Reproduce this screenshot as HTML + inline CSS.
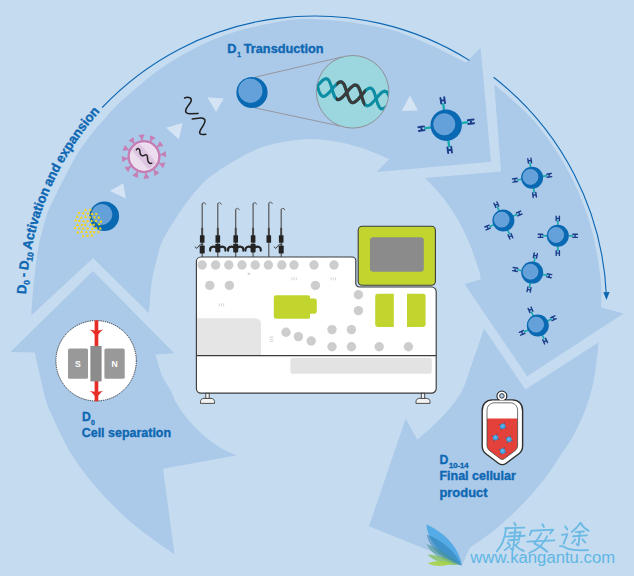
<!DOCTYPE html>
<html><head><meta charset="utf-8"><title>CAR-T workflow</title>
<style>
html,body{margin:0;padding:0;background:#c5dbf0;}
body{width:634px;height:576px;overflow:hidden;font-family:"Liberation Sans",sans-serif;}
svg{display:block;}
</style></head><body>
<svg width="634" height="576" viewBox="0 0 634 576">
<rect width="634" height="576" fill="#c5dbf0"/>
<g fill="#abc9e8">
<path d="M494.2 84.3 L501 171.5 L425 178 C427.8 181 436.4 189.4 441.7 196.1 C447 202.8 452.4 210.4 457 218.3 C461.6 226.2 465.7 234.5 469.4 243.3 C473.1 252.1 477.3 265.1 479.2 271.1 C481.1 277.1 480.4 278 480.6 279.4 L464.5 284 L527.2 376.3 L623.6 313.6 L601.2 307.6 C601 302.2 602.2 289.5 600.2 275 C598.2 260.5 594.7 238.4 589 220.5 C583.3 202.6 575.5 184.3 566.2 167.6 C556.9 150.9 545.3 134.2 533.3 120.3 C521.3 106.4 500.7 90.3 494.2 84.3 Z"/>
<path d="M598.4 342.6 L525.4 389.6 L484 328.4 C482.5 332.9 478.1 346.1 474.8 355.6 C471.5 365.1 467.4 378.3 464.4 385.5 C461.4 392.7 460.1 394.2 457 398.8 C453.9 403.4 449.9 408.3 445.7 413 C441.4 417.7 436.2 422.8 431.5 427.2 C426.8 431.6 419.7 437.6 417.3 439.7 L405.7 418.4 L369 526.3 L462.5 564 L469.6 548 C473.7 545.1 487.1 536 494 530.6 C500.9 525.2 505.6 520.4 511 515.4 C516.4 510.3 521.5 505.4 526.3 500.3 C531 495.2 535.4 490.1 539.5 485 C543.6 479.9 547.6 474.8 551 470 C554.4 465.2 556.5 461.3 560 456 C563.5 450.7 567.9 445.5 572 438 C576.1 430.5 581.3 420.2 584.8 411.1 C588.3 402 591.1 392.6 593.2 383.3 C595.3 374.1 596.4 362.4 597.3 355.6 C598.2 348.8 598.2 344.8 598.4 342.6 Z"/>
<path d="M93 271 L174.2 353.3 L155.4 354.4 C156.5 357.9 160 370.5 162 375.6 C164 380.7 165.8 382.2 167.4 385 C169 387.8 170.3 389.3 171.7 392.2 C173.1 395.1 173.2 397.8 176 402.4 C178.8 407 183.3 413.9 188.2 419.7 C193.1 425.5 199.8 432.2 205.6 437.1 C211.4 442 217.7 446.2 222.9 449.2 C228.1 452.2 234.5 454.3 236.8 455.3 L163 468.8 L174.5 554.5 C167.3 549.1 144.1 533.4 131.2 522.4 C118.3 511.3 107 499.6 97 488.2 C87 476.8 78.8 466.1 71.3 454 C63.8 441.9 56.2 424.5 52 415.5 C47.8 406.5 47.9 406.9 45.8 400 C43.7 393.1 41.1 380.4 39.6 374 C38.1 367.6 37.6 365.3 36.8 361.7 C36 358.1 35.1 354.1 34.7 352.6 L10.4 352 Z"/>
<path d="M31.2 315.5 L93 258 L149 313.3 C149.4 308.1 150.3 291.4 151.7 282 C153.1 272.6 155.6 264 157.4 257 C159.2 250 159.9 246.2 162.8 240 C165.7 233.8 169.8 227.3 174.7 219.9 C179.6 212.5 186.2 202.7 192 195.6 C197.8 188.5 202.2 183.2 209.4 177.3 C216.6 171.4 226.5 165.3 235 160.4 C243.5 155.5 251.8 151 260.2 147.8 C268.6 144.7 277.1 143 285.5 141.5 C293.9 140 302.3 138.9 310.7 138.9 C319.1 138.9 327.6 140 336 141.5 C344.4 143 352.8 145.1 361.2 147.8 C369.6 150.5 381.8 156 386.4 157.9 C391 159.8 388.6 159 389 159.2 L376.6 172 L491 161.8 L480.6 47.8 L465.7 62.7 C460.9 60.2 446.1 52.3 437 48 C427.9 43.7 418.8 39.8 411 36.7 C403.2 33.6 398.3 31.5 390 29.4 C381.7 27.3 369.8 25.3 361 23.9 C352.2 22.5 345.2 21.6 337.3 20.8 C329.4 20 321.6 19.3 313.7 19.2 C305.8 19.1 300.1 18.7 290 20 C279.9 21.3 264.5 24.4 253.1 27.1 C241.7 29.9 232 32.6 221.5 36.5 C211 40.4 200.3 45.2 190 50.7 C179.7 56.2 169.4 62.4 159.4 69.5 C149.4 76.6 137.4 87.2 130 93.5 C122.5 99.8 119.4 102.6 114.7 107.4 C110 112.2 105.2 118.1 101.7 122.1 C98.2 126.1 97.3 126.5 93.5 131.5 C89.7 136.5 83.1 145 78.6 152 C74.1 159 70.3 166.5 66.5 173.7 C62.7 180.9 58.8 188.8 55.8 195 C52.8 201.2 50.6 204.7 48.3 210.8 C46 216.9 43.8 225.2 42.1 231.7 C40.4 238.2 39.3 241.1 37.9 250 C36.5 258.9 34.7 274.1 33.6 285 C32.5 295.9 31.6 310.4 31.2 315.5 Z"/>
</g>
<path d="M102.2 107.5 A292.1 292.1 0 0 1 469.4 60.4" fill="none" stroke="#0d67b3" stroke-width="1.1"/>
<path d="M493.6 77.3 A292.1 292.1 0 0 1 606.4 296" fill="none" stroke="#0d67b3" stroke-width="1.1"/>
<path d="M603.3 292.3 L606.5 300 L609.6 292 Z" fill="#0d67b3"/>
<path id="tp" d="M26 294.2 A292.7 292.7 0 0 1 100.1 111.4" fill="none"/>
<text word-spacing="-1" font-family="Liberation Sans, sans-serif" font-weight="bold" font-size="13.3" fill="#0d67b3" stroke="#0d67b3" stroke-width="0.35"><textPath href="#tp" textLength="201.1" lengthAdjust="spacingAndGlyphs">D<tspan font-size="8.4" dy="3.1">0</tspan><tspan dy="-3.1"> - D</tspan><tspan font-size="8.4" dy="3.1">10</tspan><tspan dy="-3.1"> Activation and expansion</tspan></textPath></text>
<circle cx="104.3" cy="216.3" r="14.8" fill="#0a69b3"/><circle cx="101.9" cy="214.4" r="10" fill="#64a0d9" stroke="#78aede" stroke-width="0.7"/>
<g fill="#fdd60f"><path transform="translate(85.5 209.9) rotate(0)" d="M0 -1.65 L1.6 1.1 L-1.6 1.1Z"/><path transform="translate(90.5 209.9) rotate(90)" d="M0 -1.65 L1.6 1.1 L-1.6 1.1Z"/><path transform="translate(78.9 213) rotate(180)" d="M0 -1.65 L1.6 1.1 L-1.6 1.1Z"/><path transform="translate(83.4 213.3) rotate(30)" d="M0 -1.65 L1.6 1.1 L-1.6 1.1Z"/><path transform="translate(87.9 213.9) rotate(180)" d="M0 -1.65 L1.6 1.1 L-1.6 1.1Z"/><path transform="translate(92 214) rotate(0)" d="M0 -1.65 L1.6 1.1 L-1.6 1.1Z"/><path transform="translate(96.5 214) rotate(90)" d="M0 -1.65 L1.6 1.1 L-1.6 1.1Z"/><path transform="translate(77.2 216.7) rotate(0)" d="M0 -1.65 L1.6 1.1 L-1.6 1.1Z"/><path transform="translate(81.2 217.7) rotate(0)" d="M0 -1.65 L1.6 1.1 L-1.6 1.1Z"/><path transform="translate(85.6 216.7) rotate(0)" d="M0 -1.65 L1.6 1.1 L-1.6 1.1Z"/><path transform="translate(90 217.5) rotate(180)" d="M0 -1.65 L1.6 1.1 L-1.6 1.1Z"/><path transform="translate(94.5 217.7) rotate(180)" d="M0 -1.65 L1.6 1.1 L-1.6 1.1Z"/><path transform="translate(98.8 217.3) rotate(0)" d="M0 -1.65 L1.6 1.1 L-1.6 1.1Z"/><path transform="translate(75.6 220.5) rotate(0)" d="M0 -1.65 L1.6 1.1 L-1.6 1.1Z"/><path transform="translate(79.4 220.7) rotate(30)" d="M0 -1.65 L1.6 1.1 L-1.6 1.1Z"/><path transform="translate(83.6 221.1) rotate(0)" d="M0 -1.65 L1.6 1.1 L-1.6 1.1Z"/><path transform="translate(87.8 221.3) rotate(90)" d="M0 -1.65 L1.6 1.1 L-1.6 1.1Z"/><path transform="translate(92 221) rotate(90)" d="M0 -1.65 L1.6 1.1 L-1.6 1.1Z"/><path transform="translate(96.1 220.7) rotate(0)" d="M0 -1.65 L1.6 1.1 L-1.6 1.1Z"/><path transform="translate(101 221.5) rotate(30)" d="M0 -1.65 L1.6 1.1 L-1.6 1.1Z"/><path transform="translate(77.5 224.8) rotate(0)" d="M0 -1.65 L1.6 1.1 L-1.6 1.1Z"/><path transform="translate(82 225) rotate(90)" d="M0 -1.65 L1.6 1.1 L-1.6 1.1Z"/><path transform="translate(85.3 224.8) rotate(30)" d="M0 -1.65 L1.6 1.1 L-1.6 1.1Z"/><path transform="translate(90.4 224.7) rotate(0)" d="M0 -1.65 L1.6 1.1 L-1.6 1.1Z"/><path transform="translate(93.9 224.6) rotate(30)" d="M0 -1.65 L1.6 1.1 L-1.6 1.1Z"/><path transform="translate(99.1 224.1) rotate(0)" d="M0 -1.65 L1.6 1.1 L-1.6 1.1Z"/><path transform="translate(75.1 227.9) rotate(0)" d="M0 -1.65 L1.6 1.1 L-1.6 1.1Z"/><path transform="translate(79.3 228.2) rotate(0)" d="M0 -1.65 L1.6 1.1 L-1.6 1.1Z"/><path transform="translate(83.1 228.4) rotate(0)" d="M0 -1.65 L1.6 1.1 L-1.6 1.1Z"/><path transform="translate(87.8 228.4) rotate(90)" d="M0 -1.65 L1.6 1.1 L-1.6 1.1Z"/><path transform="translate(92.6 228.8) rotate(90)" d="M0 -1.65 L1.6 1.1 L-1.6 1.1Z"/><path transform="translate(96.1 227.8) rotate(0)" d="M0 -1.65 L1.6 1.1 L-1.6 1.1Z"/><path transform="translate(100.2 228.4) rotate(0)" d="M0 -1.65 L1.6 1.1 L-1.6 1.1Z"/><path transform="translate(77.8 232.5) rotate(0)" d="M0 -1.65 L1.6 1.1 L-1.6 1.1Z"/><path transform="translate(81.6 231.6) rotate(0)" d="M0 -1.65 L1.6 1.1 L-1.6 1.1Z"/><path transform="translate(86.3 231.8) rotate(0)" d="M0 -1.65 L1.6 1.1 L-1.6 1.1Z"/><path transform="translate(90.5 232.4) rotate(180)" d="M0 -1.65 L1.6 1.1 L-1.6 1.1Z"/><path transform="translate(94.1 232.4) rotate(180)" d="M0 -1.65 L1.6 1.1 L-1.6 1.1Z"/><path transform="translate(98.7 232.1) rotate(90)" d="M0 -1.65 L1.6 1.1 L-1.6 1.1Z"/><path transform="translate(83.2 236.2) rotate(90)" d="M0 -1.65 L1.6 1.1 L-1.6 1.1Z"/><path transform="translate(87.6 235.8) rotate(30)" d="M0 -1.65 L1.6 1.1 L-1.6 1.1Z"/><path transform="translate(91.9 235.4) rotate(0)" d="M0 -1.65 L1.6 1.1 L-1.6 1.1Z"/></g>
<path d="M255 77.2 L342 57 M254.5 107.8 L340 126" stroke="#8a8284" stroke-width="0.7" fill="none"/>
<circle cx="252" cy="92.5" r="15.6" fill="#0a69b3"/><circle cx="250.4" cy="90.7" r="11.7" fill="#64a0d9" stroke="#78aede" stroke-width="0.7"/>
<circle cx="352.6" cy="91.8" r="36.3" fill="#9cd6de" stroke="#8a8284" stroke-width="0.8"/>
<clipPath id="dc"><circle cx="352.6" cy="91.8" r="35.8"/></clipPath><clipPath id="dm"><path d="M337.5 60 L367 60 L364 130 L334.5 130Z"/></clipPath><g clip-path="url(#dc)" fill="none" stroke-width="3.1" stroke-linecap="round"><path d="M309.2 76.3 L310.4 75.8 L311.4 75.6 L312.4 75.8 L313.3 76.4 L314.1 77.3 L314.9 78.6 L315.6 80.2 L316.2 82 L316.8 83.9 L317.4 86 L318 88 L318.6 90 L319.2 91.8 L319.9 93.3 L320.7 94.6 L321.5 95.6 L322.4 96.2 L323.3 96.4 L324.4 96.3 L325.5 95.7 L326.7 94.9 L328 93.7 L329.3 92.4 L330.7 90.8 L332 89.2 L333.4 87.6 L334.8 86 L336.1 84.6 L337.4 83.5 L338.6 82.6 L339.7 82 L340.8 81.8 L341.7 82 L342.6 82.6 L343.5 83.6 L344.2 84.8 L344.9 86.4 L345.5 88.2 L346.2 90.2 L346.7 92.2 L347.3 94.2 L347.9 96.2 L348.6 98 L349.3 99.6 L350 100.9 L350.8 101.9 L351.7 102.5 L352.7 102.7 L353.8 102.5 L354.9 102 L356.1 101.1 L357.4 100 L358.7 98.6 L360 97.1 L361.4 95.4 L362.8 93.8 L364.1 92.3 L365.4 90.9 L366.7 89.7 L367.9 88.8 L369 88.3 L370.1 88.1 L371.1 88.3 L372 88.9 L372.8 89.8 L373.6 91.1 L374.3 92.6 L374.9 94.4 L375.5 96.4 L376.1 98.4 L376.7 100.5 L377.3 102.4 L377.9 104.2 L378.6 105.8 L379.4 107.1 L380.2 108.1 L381.1 108.7 L382 108.9 L383.1 108.8 L384.2 108.2 L385.4 107.4 L386.7 106.2 L388 104.8 L389.4 103.3 L390.7 101.7 L392.1 100 L393.5 98.5 L394.8 97.1 L396 95.9 L397.3 95.1 L398.4 94.5 L399.5 94.3" stroke="#0d8da4"/><path d="M306 91.5 L306.8 92.5 L307.7 93.1 L308.7 93.3 L309.7 93.2 L310.9 92.6 L312.1 91.8 L313.3 90.6 L314.7 89.2 L316 87.7 L317.4 86.1 L318.7 84.4 L320.1 82.9 L321.4 81.5 L322.7 80.3 L323.9 79.5 L325 78.9 L326.1 78.7 L327.1 78.9 L328 79.5 L328.8 80.4 L329.5 81.7 L330.2 83.3 L330.9 85.1 L331.5 87 L332.1 89.1 L332.7 91.1 L333.3 93.1 L333.9 94.9 L334.6 96.5 L335.3 97.8 L336.2 98.7 L337 99.3 L338 99.6 L339.1 99.4 L340.2 98.9 L341.4 98 L342.7 96.9 L344 95.5 L345.4 93.9 L346.7 92.3 L348.1 90.7 L349.4 89.1 L350.8 87.7 L352 86.6 L353.2 85.7 L354.4 85.1 L355.4 85 L356.4 85.2 L357.3 85.7 L358.1 86.7 L358.9 88 L359.6 89.5 L360.2 91.3 L360.8 93.3 L361.4 95.3 L362 97.4 L362.6 99.3 L363.2 101.1 L363.9 102.7 L364.7 104 L365.5 105 L366.4 105.6 L367.4 105.8 L368.4 105.6 L369.6 105.1 L370.8 104.2 L372 103.1 L373.3 101.7 L374.7 100.2 L376.1 98.5 L377.4 96.9 L378.8 95.4 L380.1 94 L381.4 92.8 L382.6 91.9 L383.7 91.4 L384.8 91.2 L385.8 91.4 L386.7 92 L387.5 92.9 L388.2 94.2 L388.9 95.8 L389.6 97.6 L390.2 99.5 L390.8 101.6 L391.3 103.6 L392 105.6 L392.6 107.4 L393.3 108.9 L394 110.2 L394.8 111.2 L395.7 111.8" stroke="#0d8da4"/><g clip-path="url(#dm)"><path d="M309.2 76.3 L310.4 75.8 L311.4 75.6 L312.4 75.8 L313.3 76.4 L314.1 77.3 L314.9 78.6 L315.6 80.2 L316.2 82 L316.8 83.9 L317.4 86 L318 88 L318.6 90 L319.2 91.8 L319.9 93.3 L320.7 94.6 L321.5 95.6 L322.4 96.2 L323.3 96.4 L324.4 96.3 L325.5 95.7 L326.7 94.9 L328 93.7 L329.3 92.4 L330.7 90.8 L332 89.2 L333.4 87.6 L334.8 86 L336.1 84.6 L337.4 83.5 L338.6 82.6 L339.7 82 L340.8 81.8 L341.7 82 L342.6 82.6 L343.5 83.6 L344.2 84.8 L344.9 86.4 L345.5 88.2 L346.2 90.2 L346.7 92.2 L347.3 94.2 L347.9 96.2 L348.6 98 L349.3 99.6 L350 100.9 L350.8 101.9 L351.7 102.5 L352.7 102.7 L353.8 102.5 L354.9 102 L356.1 101.1 L357.4 100 L358.7 98.6 L360 97.1 L361.4 95.4 L362.8 93.8 L364.1 92.3 L365.4 90.9 L366.7 89.7 L367.9 88.8 L369 88.3 L370.1 88.1 L371.1 88.3 L372 88.9 L372.8 89.8 L373.6 91.1 L374.3 92.6 L374.9 94.4 L375.5 96.4 L376.1 98.4 L376.7 100.5 L377.3 102.4 L377.9 104.2 L378.6 105.8 L379.4 107.1 L380.2 108.1 L381.1 108.7 L382 108.9 L383.1 108.8 L384.2 108.2 L385.4 107.4 L386.7 106.2 L388 104.8 L389.4 103.3 L390.7 101.7 L392.1 100 L393.5 98.5 L394.8 97.1 L396 95.9 L397.3 95.1 L398.4 94.5 L399.5 94.3" stroke="#3b3b3b"/><path d="M306 91.5 L306.8 92.5 L307.7 93.1 L308.7 93.3 L309.7 93.2 L310.9 92.6 L312.1 91.8 L313.3 90.6 L314.7 89.2 L316 87.7 L317.4 86.1 L318.7 84.4 L320.1 82.9 L321.4 81.5 L322.7 80.3 L323.9 79.5 L325 78.9 L326.1 78.7 L327.1 78.9 L328 79.5 L328.8 80.4 L329.5 81.7 L330.2 83.3 L330.9 85.1 L331.5 87 L332.1 89.1 L332.7 91.1 L333.3 93.1 L333.9 94.9 L334.6 96.5 L335.3 97.8 L336.2 98.7 L337 99.3 L338 99.6 L339.1 99.4 L340.2 98.9 L341.4 98 L342.7 96.9 L344 95.5 L345.4 93.9 L346.7 92.3 L348.1 90.7 L349.4 89.1 L350.8 87.7 L352 86.6 L353.2 85.7 L354.4 85.1 L355.4 85 L356.4 85.2 L357.3 85.7 L358.1 86.7 L358.9 88 L359.6 89.5 L360.2 91.3 L360.8 93.3 L361.4 95.3 L362 97.4 L362.6 99.3 L363.2 101.1 L363.9 102.7 L364.7 104 L365.5 105 L366.4 105.6 L367.4 105.8 L368.4 105.6 L369.6 105.1 L370.8 104.2 L372 103.1 L373.3 101.7 L374.7 100.2 L376.1 98.5 L377.4 96.9 L378.8 95.4 L380.1 94 L381.4 92.8 L382.6 91.9 L383.7 91.4 L384.8 91.2 L385.8 91.4 L386.7 92 L387.5 92.9 L388.2 94.2 L388.9 95.8 L389.6 97.6 L390.2 99.5 L390.8 101.6 L391.3 103.6 L392 105.6 L392.6 107.4 L393.3 108.9 L394 110.2 L394.8 111.2 L395.7 111.8" stroke="#3b3b3b"/></g></g>
<g transform="translate(446.2 125.2) rotate(-8)"><g transform="rotate(0)"><path d="M0 -15.2 V-22.3" stroke="#16a9ad" stroke-width="2.3" fill="none"/><path d="M-1.9 -22.1 V-27.9 M1.9 -22.1 V-27.9 M-1.9 -25 H1.9" stroke="#1a3d8c" stroke-width="1.9" fill="none" stroke-linecap="round"/></g><g transform="rotate(90)"><path d="M0 -15.2 V-22.3" stroke="#16a9ad" stroke-width="2.3" fill="none"/><path d="M-1.9 -22.1 V-27.9 M1.9 -22.1 V-27.9 M-1.9 -25 H1.9" stroke="#1a3d8c" stroke-width="1.9" fill="none" stroke-linecap="round"/></g><g transform="rotate(180)"><path d="M0 -15.2 V-22.3" stroke="#16a9ad" stroke-width="2.3" fill="none"/><path d="M-1.9 -22.1 V-27.9 M1.9 -22.1 V-27.9 M-1.9 -25 H1.9" stroke="#1a3d8c" stroke-width="1.9" fill="none" stroke-linecap="round"/></g><g transform="rotate(270)"><path d="M0 -15.2 V-22.3" stroke="#16a9ad" stroke-width="2.3" fill="none"/><path d="M-1.9 -22.1 V-27.9 M1.9 -22.1 V-27.9 M-1.9 -25 H1.9" stroke="#1a3d8c" stroke-width="1.9" fill="none" stroke-linecap="round"/></g></g><circle cx="446.2" cy="125.2" r="15.7" fill="#0a69b3"/><circle cx="444.3" cy="124.3" r="10.6" fill="#64a0d9" stroke="#78aede" stroke-width="0.7"/>
<g transform="translate(532.1 177.8) rotate(-8)"><g transform="rotate(0)"><path d="M0 -10.5 V-15.4" stroke="#16a9ad" stroke-width="1.6" fill="none"/><path d="M-1.6 -15 V-19.6 M1.6 -15 V-19.6 M-1.6 -17.3 H1.6" stroke="#1a3d8c" stroke-width="1.4" fill="none" stroke-linecap="round"/></g><g transform="rotate(90)"><path d="M0 -10.5 V-15.4" stroke="#16a9ad" stroke-width="1.6" fill="none"/><path d="M-1.6 -15 V-19.6 M1.6 -15 V-19.6 M-1.6 -17.3 H1.6" stroke="#1a3d8c" stroke-width="1.4" fill="none" stroke-linecap="round"/></g><g transform="rotate(180)"><path d="M0 -10.5 V-15.4" stroke="#16a9ad" stroke-width="1.6" fill="none"/><path d="M-1.6 -15 V-19.6 M1.6 -15 V-19.6 M-1.6 -17.3 H1.6" stroke="#1a3d8c" stroke-width="1.4" fill="none" stroke-linecap="round"/></g><g transform="rotate(270)"><path d="M0 -10.5 V-15.4" stroke="#16a9ad" stroke-width="1.6" fill="none"/><path d="M-1.6 -15 V-19.6 M1.6 -15 V-19.6 M-1.6 -17.3 H1.6" stroke="#1a3d8c" stroke-width="1.4" fill="none" stroke-linecap="round"/></g></g><circle cx="532.1" cy="177.8" r="11" fill="#0a69b3"/><circle cx="530.4" cy="176.9" r="7.5" fill="#64a0d9" stroke="#78aede" stroke-width="0.7"/>
<g transform="translate(503.4 220.5) rotate(-24)"><g transform="rotate(0)"><path d="M0 -10.5 V-15.4" stroke="#16a9ad" stroke-width="1.6" fill="none"/><path d="M-1.6 -15 V-19.6 M1.6 -15 V-19.6 M-1.6 -17.3 H1.6" stroke="#1a3d8c" stroke-width="1.4" fill="none" stroke-linecap="round"/></g><g transform="rotate(90)"><path d="M0 -10.5 V-15.4" stroke="#16a9ad" stroke-width="1.6" fill="none"/><path d="M-1.6 -15 V-19.6 M1.6 -15 V-19.6 M-1.6 -17.3 H1.6" stroke="#1a3d8c" stroke-width="1.4" fill="none" stroke-linecap="round"/></g><g transform="rotate(180)"><path d="M0 -10.5 V-15.4" stroke="#16a9ad" stroke-width="1.6" fill="none"/><path d="M-1.6 -15 V-19.6 M1.6 -15 V-19.6 M-1.6 -17.3 H1.6" stroke="#1a3d8c" stroke-width="1.4" fill="none" stroke-linecap="round"/></g><g transform="rotate(270)"><path d="M0 -10.5 V-15.4" stroke="#16a9ad" stroke-width="1.6" fill="none"/><path d="M-1.6 -15 V-19.6 M1.6 -15 V-19.6 M-1.6 -17.3 H1.6" stroke="#1a3d8c" stroke-width="1.4" fill="none" stroke-linecap="round"/></g></g><circle cx="503.4" cy="220.5" r="11" fill="#0a69b3"/><circle cx="501.7" cy="219.6" r="7.5" fill="#64a0d9" stroke="#78aede" stroke-width="0.7"/>
<g transform="translate(557.8 235.8) rotate(0)"><g transform="rotate(0)"><path d="M0 -10.5 V-15.4" stroke="#16a9ad" stroke-width="1.6" fill="none"/><path d="M-1.6 -15 V-19.6 M1.6 -15 V-19.6 M-1.6 -17.3 H1.6" stroke="#1a3d8c" stroke-width="1.4" fill="none" stroke-linecap="round"/></g><g transform="rotate(90)"><path d="M0 -10.5 V-15.4" stroke="#16a9ad" stroke-width="1.6" fill="none"/><path d="M-1.6 -15 V-19.6 M1.6 -15 V-19.6 M-1.6 -17.3 H1.6" stroke="#1a3d8c" stroke-width="1.4" fill="none" stroke-linecap="round"/></g><g transform="rotate(180)"><path d="M0 -10.5 V-15.4" stroke="#16a9ad" stroke-width="1.6" fill="none"/><path d="M-1.6 -15 V-19.6 M1.6 -15 V-19.6 M-1.6 -17.3 H1.6" stroke="#1a3d8c" stroke-width="1.4" fill="none" stroke-linecap="round"/></g><g transform="rotate(270)"><path d="M0 -10.5 V-15.4" stroke="#16a9ad" stroke-width="1.6" fill="none"/><path d="M-1.6 -15 V-19.6 M1.6 -15 V-19.6 M-1.6 -17.3 H1.6" stroke="#1a3d8c" stroke-width="1.4" fill="none" stroke-linecap="round"/></g></g><circle cx="557.8" cy="235.8" r="11" fill="#0a69b3"/><circle cx="556.1" cy="234.9" r="7.5" fill="#64a0d9" stroke="#78aede" stroke-width="0.7"/>
<g transform="translate(532.2 272.6) rotate(10.5)"><g transform="rotate(0)"><path d="M0 -10.5 V-15.4" stroke="#16a9ad" stroke-width="1.6" fill="none"/><path d="M-1.6 -15 V-19.6 M1.6 -15 V-19.6 M-1.6 -17.3 H1.6" stroke="#1a3d8c" stroke-width="1.4" fill="none" stroke-linecap="round"/></g><g transform="rotate(90)"><path d="M0 -10.5 V-15.4" stroke="#16a9ad" stroke-width="1.6" fill="none"/><path d="M-1.6 -15 V-19.6 M1.6 -15 V-19.6 M-1.6 -17.3 H1.6" stroke="#1a3d8c" stroke-width="1.4" fill="none" stroke-linecap="round"/></g><g transform="rotate(180)"><path d="M0 -10.5 V-15.4" stroke="#16a9ad" stroke-width="1.6" fill="none"/><path d="M-1.6 -15 V-19.6 M1.6 -15 V-19.6 M-1.6 -17.3 H1.6" stroke="#1a3d8c" stroke-width="1.4" fill="none" stroke-linecap="round"/></g><g transform="rotate(270)"><path d="M0 -10.5 V-15.4" stroke="#16a9ad" stroke-width="1.6" fill="none"/><path d="M-1.6 -15 V-19.6 M1.6 -15 V-19.6 M-1.6 -17.3 H1.6" stroke="#1a3d8c" stroke-width="1.4" fill="none" stroke-linecap="round"/></g></g><circle cx="532.2" cy="272.6" r="11" fill="#0a69b3"/><circle cx="530.5" cy="271.7" r="7.5" fill="#64a0d9" stroke="#78aede" stroke-width="0.7"/>
<g transform="translate(537.8 325.5) rotate(-25)"><g transform="rotate(0)"><path d="M0 -10.5 V-15.4" stroke="#16a9ad" stroke-width="1.6" fill="none"/><path d="M-1.6 -15 V-19.6 M1.6 -15 V-19.6 M-1.6 -17.3 H1.6" stroke="#1a3d8c" stroke-width="1.4" fill="none" stroke-linecap="round"/></g><g transform="rotate(90)"><path d="M0 -10.5 V-15.4" stroke="#16a9ad" stroke-width="1.6" fill="none"/><path d="M-1.6 -15 V-19.6 M1.6 -15 V-19.6 M-1.6 -17.3 H1.6" stroke="#1a3d8c" stroke-width="1.4" fill="none" stroke-linecap="round"/></g><g transform="rotate(180)"><path d="M0 -10.5 V-15.4" stroke="#16a9ad" stroke-width="1.6" fill="none"/><path d="M-1.6 -15 V-19.6 M1.6 -15 V-19.6 M-1.6 -17.3 H1.6" stroke="#1a3d8c" stroke-width="1.4" fill="none" stroke-linecap="round"/></g><g transform="rotate(270)"><path d="M0 -10.5 V-15.4" stroke="#16a9ad" stroke-width="1.6" fill="none"/><path d="M-1.6 -15 V-19.6 M1.6 -15 V-19.6 M-1.6 -17.3 H1.6" stroke="#1a3d8c" stroke-width="1.4" fill="none" stroke-linecap="round"/></g></g><circle cx="537.8" cy="325.5" r="11" fill="#0a69b3"/><circle cx="536.1" cy="324.6" r="7.5" fill="#64a0d9" stroke="#78aede" stroke-width="0.7"/>
<g fill="#ffffff" fill-opacity="0.5"><path d="M110 191 L123.2 183.2 L125.9 198.5Z"/><path d="M166.2 127.8 L182.6 123.1 L178.9 139.5Z"/><path d="M207.3 97.2 L223.7 98.5 L216.1 112.1Z"/><path d="M410 95.6 L401.6 111 L418 110.5Z"/></g>
<path d="M184.6 98 C186.5 97.2 188.5 97.2 189.8 97.8 C191.6 98.8 191.6 100.6 190.6 102.2 L187 107.4 C185.6 109.6 185.2 111.4 186.2 112.6 C187 113.6 188.4 113.8 190 113.7 L198 113.4 M192.2 118.9 L200.4 118 C202.6 117.8 204.4 118.4 204.9 120 C205.4 121.6 204.6 123.2 203.6 124.8 L200.8 129.4 C199.6 131.4 199.2 132.8 200.2 133.8 C201.2 134.8 203.4 134.7 205.8 134.3" fill="none" stroke="#1f1f1f" stroke-width="1.55" stroke-linecap="round" stroke-linejoin="round"/>
<g transform="translate(144 156.6)"><g transform="rotate(-6.5)"><path d="M0 -16 V-19.6" stroke="#c67fb5" stroke-width="1.7" fill="none"/><path d="M-2.5 -21.6 H2.5 L0.6 -18.4 H-0.6 Z" fill="#c67fb5" stroke="#c67fb5" stroke-width="0.9" stroke-linejoin="round"/></g><g transform="rotate(23.5)"><path d="M0 -16 V-19.6" stroke="#c67fb5" stroke-width="1.7" fill="none"/><path d="M-2.5 -21.6 H2.5 L0.6 -18.4 H-0.6 Z" fill="#c67fb5" stroke="#c67fb5" stroke-width="0.9" stroke-linejoin="round"/></g><g transform="rotate(53.5)"><path d="M0 -16 V-19.6" stroke="#c67fb5" stroke-width="1.7" fill="none"/><path d="M-2.5 -21.6 H2.5 L0.6 -18.4 H-0.6 Z" fill="#c67fb5" stroke="#c67fb5" stroke-width="0.9" stroke-linejoin="round"/></g><g transform="rotate(83.5)"><path d="M0 -16 V-19.6" stroke="#c67fb5" stroke-width="1.7" fill="none"/><path d="M-2.5 -21.6 H2.5 L0.6 -18.4 H-0.6 Z" fill="#c67fb5" stroke="#c67fb5" stroke-width="0.9" stroke-linejoin="round"/></g><g transform="rotate(113.5)"><path d="M0 -16 V-19.6" stroke="#c67fb5" stroke-width="1.7" fill="none"/><path d="M-2.5 -21.6 H2.5 L0.6 -18.4 H-0.6 Z" fill="#c67fb5" stroke="#c67fb5" stroke-width="0.9" stroke-linejoin="round"/></g><g transform="rotate(143.5)"><path d="M0 -16 V-19.6" stroke="#c67fb5" stroke-width="1.7" fill="none"/><path d="M-2.5 -21.6 H2.5 L0.6 -18.4 H-0.6 Z" fill="#c67fb5" stroke="#c67fb5" stroke-width="0.9" stroke-linejoin="round"/></g><g transform="rotate(173.5)"><path d="M0 -16 V-19.6" stroke="#c67fb5" stroke-width="1.7" fill="none"/><path d="M-2.5 -21.6 H2.5 L0.6 -18.4 H-0.6 Z" fill="#c67fb5" stroke="#c67fb5" stroke-width="0.9" stroke-linejoin="round"/></g><g transform="rotate(203.5)"><path d="M0 -16 V-19.6" stroke="#c67fb5" stroke-width="1.7" fill="none"/><path d="M-2.5 -21.6 H2.5 L0.6 -18.4 H-0.6 Z" fill="#c67fb5" stroke="#c67fb5" stroke-width="0.9" stroke-linejoin="round"/></g><g transform="rotate(233.5)"><path d="M0 -16 V-19.6" stroke="#c67fb5" stroke-width="1.7" fill="none"/><path d="M-2.5 -21.6 H2.5 L0.6 -18.4 H-0.6 Z" fill="#c67fb5" stroke="#c67fb5" stroke-width="0.9" stroke-linejoin="round"/></g><g transform="rotate(263.5)"><path d="M0 -16 V-19.6" stroke="#c67fb5" stroke-width="1.7" fill="none"/><path d="M-2.5 -21.6 H2.5 L0.6 -18.4 H-0.6 Z" fill="#c67fb5" stroke="#c67fb5" stroke-width="0.9" stroke-linejoin="round"/></g><g transform="rotate(293.5)"><path d="M0 -16 V-19.6" stroke="#c67fb5" stroke-width="1.7" fill="none"/><path d="M-2.5 -21.6 H2.5 L0.6 -18.4 H-0.6 Z" fill="#c67fb5" stroke="#c67fb5" stroke-width="0.9" stroke-linejoin="round"/></g><g transform="rotate(323.5)"><path d="M0 -16 V-19.6" stroke="#c67fb5" stroke-width="1.7" fill="none"/><path d="M-2.5 -21.6 H2.5 L0.6 -18.4 H-0.6 Z" fill="#c67fb5" stroke="#c67fb5" stroke-width="0.9" stroke-linejoin="round"/></g><circle r="15.3" fill="#ebdcee" stroke="#c67fb5" stroke-width="2.5"/><clipPath id="vc"><circle r="14"/></clipPath><g clip-path="url(#vc)"><path d="M-16 -11 L-9 -18 L16 10 L9 18Z" fill="#d9bddc" opacity="0.75"/></g><circle r="13.6" fill="none" stroke="#f4eaf5" stroke-width="0.9" opacity="0.8"/><path d="M-7.6 -6.8 C-6.6 -8.6 -4.4 -8.4 -4.2 -6 C-4 -3.4 -4.2 -1.2 -1.6 -0.8 C0.6 -0.5 1.2 -2.6 2.6 -1.6 C4.2 -0.4 3 2.6 4.2 5 C5 6.8 6.6 7.2 7.8 6.6" fill="none" stroke="#222" stroke-width="1.5" stroke-linecap="round"/></g>
<circle cx="96.1" cy="360.8" r="40.2" fill="#fff" stroke="#333" stroke-width="1" stroke-dasharray="1.2 1"/><rect x="94.6" y="320.4" width="3.7" height="80.8" fill="#e82d26"/><path d="M89.6 329.6 C92.5 330.4 94 330.6 96.45 330.6 C98.9 330.6 100.4 330.4 103.3 329.6 C100.6 331.6 98 334 96.45 337.6 C94.9 334 92.3 331.6 89.6 329.6Z" fill="#e82d26"/><path d="M89.6 390.8 C92.5 391.6 94 391.8 96.45 391.8 C98.9 391.8 100.4 391.6 103.3 390.8 C100.6 392.8 98 395.2 96.45 398.8 C94.9 395.2 92.3 392.8 89.6 390.8Z" fill="#e82d26"/><rect x="68" y="348.4" width="20" height="30.4" rx="1.6" fill="#999"/><rect x="104.4" y="348.4" width="20.3" height="30.4" rx="1.6" fill="#999"/><rect x="90.4" y="346" width="11.2" height="35.4" fill="#8c8c8c"/><text x="75.1" y="367.3" font-family="Liberation Sans, sans-serif" font-weight="bold" font-size="9.8" fill="#fff" textLength="5.8" lengthAdjust="spacingAndGlyphs">S</text><text x="111.6" y="367.3" font-family="Liberation Sans, sans-serif" font-weight="bold" font-size="9.8" fill="#fff" textLength="6.2" lengthAdjust="spacingAndGlyphs">N</text>
<text x="227.2" y="53.2" font-family="Liberation Sans, sans-serif" font-weight="bold" font-size="12.8" fill="#0d67b3" stroke="#0d67b3" stroke-width="0.35" textLength="9.2" lengthAdjust="spacingAndGlyphs">D</text>
<text x="237.2" y="56.8" font-family="Liberation Sans, sans-serif" font-weight="bold" font-size="8" fill="#0d67b3" stroke="#0d67b3" stroke-width="0.35" textLength="3.6" lengthAdjust="spacingAndGlyphs">1</text>
<text x="243.8" y="53.2" font-family="Liberation Sans, sans-serif" font-weight="bold" font-size="12.8" fill="#0d67b3" stroke="#0d67b3" stroke-width="0.35" textLength="79.8" lengthAdjust="spacingAndGlyphs">Transduction</text>
<text x="81.9" y="420.7" font-family="Liberation Sans, sans-serif" font-weight="bold" font-size="12.8" fill="#0d67b3" stroke="#0d67b3" stroke-width="0.35" textLength="8.8" lengthAdjust="spacingAndGlyphs">D</text>
<text x="90.9" y="425.4" font-family="Liberation Sans, sans-serif" font-weight="bold" font-size="7.5" fill="#0d67b3" stroke="#0d67b3" stroke-width="0.35" textLength="3.8" lengthAdjust="spacingAndGlyphs">0</text>
<text x="81.7" y="437.2" font-family="Liberation Sans, sans-serif" font-weight="bold" font-size="12.8" fill="#0d67b3" stroke="#0d67b3" stroke-width="0.35" textLength="89.4" lengthAdjust="spacingAndGlyphs">Cell separation</text>
<text x="439.4" y="463.6" font-family="Liberation Sans, sans-serif" font-weight="bold" font-size="12.8" fill="#0d67b3" stroke="#0d67b3" stroke-width="0.35" textLength="8.8" lengthAdjust="spacingAndGlyphs">D</text>
<text x="449" y="468.4" font-family="Liberation Sans, sans-serif" font-weight="bold" font-size="7.5" fill="#0d67b3" stroke="#0d67b3" stroke-width="0.35" textLength="19.6" lengthAdjust="spacingAndGlyphs">10-14</text>
<text x="439.4" y="480.4" font-family="Liberation Sans, sans-serif" font-weight="bold" font-size="12.8" fill="#0d67b3" stroke="#0d67b3" stroke-width="0.35" textLength="76.4" lengthAdjust="spacingAndGlyphs">Final cellular</text>
<text x="439.4" y="497.2" font-family="Liberation Sans, sans-serif" font-weight="bold" font-size="12.8" fill="#0d67b3" stroke="#0d67b3" stroke-width="0.35" textLength="48.2" lengthAdjust="spacingAndGlyphs">product</text>
<path d="M202.2 203.6 V257" stroke="#555" stroke-width="1.2" fill="none"/><path d="M202.2 227.8 V236" stroke="#444" stroke-width="1.9" fill="none"/><path d="M202.2 204 q0.2 -1.5 1.8 -1.3 q1.4 0.2 1.8 1.9" stroke="#555" stroke-width="0.9" fill="none"/><rect x="199.9" y="235.3" width="4.6" height="7.4" fill="#232323"/><rect x="199.7" y="245.4" width="5" height="8.2" rx="0.9" fill="#232323"/><path d="M194.8 246.6 l2 1.8 l3.6 -4.2 l3 0" stroke="#2a2a2a" stroke-width="0.9" fill="none"/><path d="M217.8 203.6 V257" stroke="#555" stroke-width="1.2" fill="none"/><path d="M217.8 227.8 V236" stroke="#444" stroke-width="1.9" fill="none"/><path d="M217.8 204 q0.2 -1.5 1.8 -1.3 q1.4 0.2 1.8 1.9" stroke="#555" stroke-width="0.9" fill="none"/><rect x="215.5" y="235.3" width="4.6" height="7.4" fill="#232323"/><rect x="215.3" y="243.8" width="5" height="8.6" rx="0.8" fill="#232323"/><path d="M210.2 250.6 C209.4 246.8 213.4 245.6 216.2 247.6 M225.4 250.6 C226.2 246.8 222.2 245.6 219.4 247.6" stroke="#232323" stroke-width="2.1" fill="none" stroke-linecap="round"/><path d="M235.7 209.2 V257" stroke="#555" stroke-width="1.2" fill="none"/><path d="M235.7 227.8 V236" stroke="#444" stroke-width="1.9" fill="none"/><path d="M235.7 209.6 q0.2 -1.5 1.8 -1.3 q1.4 0.2 1.8 1.9" stroke="#555" stroke-width="0.9" fill="none"/><rect x="233.4" y="235.3" width="4.6" height="7.4" fill="#232323"/><rect x="233.2" y="243.8" width="5" height="8.6" rx="0.8" fill="#232323"/><path d="M228.1 250.6 C227.3 246.8 231.3 245.6 234.1 247.6 M243.3 250.6 C244.1 246.8 240.1 245.6 237.3 247.6" stroke="#232323" stroke-width="2.1" fill="none" stroke-linecap="round"/><path d="M253.1 203.6 V257" stroke="#555" stroke-width="1.2" fill="none"/><path d="M253.1 227.8 V236" stroke="#444" stroke-width="1.9" fill="none"/><path d="M253.1 204 q0.2 -1.5 1.8 -1.3 q1.4 0.2 1.8 1.9" stroke="#555" stroke-width="0.9" fill="none"/><rect x="250.8" y="235.3" width="4.6" height="7.4" fill="#232323"/><rect x="250.6" y="243.8" width="5" height="8.6" rx="0.8" fill="#232323"/><path d="M245.5 250.6 C244.7 246.8 248.7 245.6 251.5 247.6 M260.7 250.6 C261.5 246.8 257.5 245.6 254.7 247.6" stroke="#232323" stroke-width="2.1" fill="none" stroke-linecap="round"/><path d="M268.8 203 V257" stroke="#555" stroke-width="1.2" fill="none"/><path d="M268.8 227.8 V236" stroke="#444" stroke-width="1.9" fill="none"/><path d="M268.8 203.4 q0.2 -1.5 1.8 -1.3 q1.4 0.2 1.8 1.9" stroke="#555" stroke-width="0.9" fill="none"/><rect x="266.5" y="235.3" width="4.6" height="7.4" fill="#232323"/><path d="M281.2 209.2 V257" stroke="#555" stroke-width="1.2" fill="none"/><path d="M281.2 227.8 V236" stroke="#444" stroke-width="1.9" fill="none"/><path d="M281.2 209.6 q0.2 -1.5 1.8 -1.3 q1.4 0.2 1.8 1.9" stroke="#555" stroke-width="0.9" fill="none"/><rect x="278.9" y="235.3" width="4.6" height="7.4" fill="#232323"/><rect x="278.7" y="245.4" width="5" height="8.2" rx="0.9" fill="#232323"/><path d="M273.8 246.6 l2 1.8 l3.6 -4.2 l3 0" stroke="#2a2a2a" stroke-width="0.9" fill="none"/><path d="M201 257 H352.2 a3.6 3.6 0 0 1 3.6 3.6 V283.4 a3.6 3.6 0 0 0 3.6 3.6 H431.6 a4.6 4.6 0 0 1 4.6 4.6 V388.5 a4.6 4.6 0 0 1 -4.6 4.6 H201 a4.6 4.6 0 0 1 -4.6 -4.6 V261.6 a4.6 4.6 0 0 1 4.6 -4.6 Z" fill="#fff" stroke="#3c3c3c" stroke-width="1.15"/><path d="M196.4 355.7 H436.2" stroke="#3c3c3c" stroke-width="1.25" fill="none"/><path d="M197 318.2 H255.4 a5.6 5.6 0 0 1 5.6 5.6 V354.9 H197 Z" fill="#e5e5e5"/><rect x="290.4" y="357.8" width="141.4" height="16" rx="2.6" fill="#e3e3e3"/><g fill="#cdcdcd"><circle cx="202.2" cy="265" r="4.7"/><circle cx="215.6" cy="265" r="4.7"/><circle cx="228.8" cy="265" r="4.7"/><circle cx="242" cy="265" r="4.7"/><circle cx="255.2" cy="265" r="4.7"/><circle cx="268.4" cy="265" r="4.7"/><circle cx="281.8" cy="265" r="4.7"/><circle cx="294" cy="265" r="4.7"/><circle cx="314" cy="265" r="4.7"/><circle cx="334" cy="265" r="4.7"/><circle cx="209.8" cy="285.4" r="4.7"/><circle cx="229.4" cy="285.4" r="4.7"/><circle cx="315.4" cy="285.4" r="4.7"/><circle cx="358.4" cy="294.7" r="4.7"/><circle cx="358.4" cy="310.6" r="4.7"/><circle cx="286" cy="332.2" r="4.7"/><circle cx="298.4" cy="336.6" r="4.7"/><circle cx="311.2" cy="341" r="4.7"/><circle cx="332" cy="329.6" r="4.7"/><circle cx="351.4" cy="329.6" r="4.7"/><circle cx="332" cy="346.8" r="4.7"/><circle cx="351.4" cy="346.8" r="4.7"/><circle cx="379.2" cy="346.8" r="4.7"/><circle cx="408.4" cy="346.8" r="4.7"/></g><g fill="#dadada"><rect x="291.4" y="277.3" width="1.1" height="3"/><rect x="293.6" y="277.3" width="1.1" height="3"/><rect x="295.8" y="277.3" width="1.1" height="3"/><rect x="330.5" y="277.3" width="1.1" height="3"/><rect x="332.7" y="277.3" width="1.1" height="3"/><rect x="334.9" y="277.3" width="1.1" height="3"/><rect x="218.7" y="303.3" width="1.1" height="3"/><rect x="220.9" y="303.3" width="1.1" height="3"/><rect x="223.1" y="303.3" width="1.1" height="3"/><rect x="269.6" y="336.4" width="3.6" height="1.2"/><rect x="269.6" y="338.6" width="3.6" height="1.2"/><rect x="269.6" y="340.8" width="3.6" height="1.2"/><circle cx="248.8" cy="273.8" r="1.4"/></g><path d="M276 295.2 H308.4 a1.6 1.6 0 0 1 1.6 1.6 V298.4 H314.4 a2.4 2.4 0 0 1 2.4 2.4 V311.4 a2.4 2.4 0 0 1 -2.4 2.4 H310 V317.2 a1.6 1.6 0 0 1 -1.6 1.6 H276 a2.2 2.2 0 0 1 -2.2 -2.2 V297.4 a2.2 2.2 0 0 1 2.2 -2.2 Z" fill="#c2d52f"/><path d="M377.6 293.8 H393.8 V327 H377.6 a2.4 2.4 0 0 1 -2.4 -2.4 V296.2 a2.4 2.4 0 0 1 2.4 -2.4Z" fill="#c2d52f"/><path d="M407 293.8 H423.2 a2.4 2.4 0 0 1 2.4 2.4 V324.6 a2.4 2.4 0 0 1 -2.4 2.4 H407Z" fill="#c2d52f"/><rect x="358.2" y="226.2" width="77.2" height="59" rx="4" fill="#c2d52f" stroke="#3c3c3c" stroke-width="1.1"/><rect x="370" y="237.3" width="53.8" height="34.4" rx="3.2" fill="#8b8b8b"/><rect x="205.8" y="393.3" width="3.4" height="5.8" fill="#f2f2f2" stroke="#3c3c3c" stroke-width="0.9"/><path d="M200.5 403.4 H214.5 V401.6 C214.5 399.4 212.9 398.4 210.9 398.4 H204.1 C202.1 398.4 200.5 399.4 200.5 401.6 Z" fill="#f2f2f2" stroke="#3c3c3c" stroke-width="0.9"/><rect x="421.3" y="393.3" width="3.4" height="5.8" fill="#f2f2f2" stroke="#3c3c3c" stroke-width="0.9"/><path d="M416 403.4 H430 V401.6 C430 399.4 428.4 398.4 426.4 398.4 H419.6 C417.6 398.4 416 399.4 416 401.6 Z" fill="#f2f2f2" stroke="#3c3c3c" stroke-width="0.9"/>
<circle cx="501.9" cy="396.1" r="4.9" fill="#fff" stroke="#2f2f2f" stroke-width="1.3"/><path d="M492.5 399.9 H512.3 C518.6 399.9 522.6 404.2 522.6 410.5 V446 C522.6 449.8 521.2 452 518.6 454 L506.2 463.2 C503.6 465.1 501 465.1 498.4 463.2 L486.2 454 C483.6 452 482.2 449.8 482.2 446 V410.5 C482.2 404.2 486.2 399.9 492.5 399.9 Z" fill="#fff" stroke="#2f2f2f" stroke-width="1.4"/><circle cx="501.9" cy="396.1" r="4.25" fill="#fff"/><circle cx="501.9" cy="395.9" r="2.3" fill="#abc9e8" stroke="#2f2f2f" stroke-width="0.9"/><path d="M487 418 H517.6 V445 C517.6 448 516.4 449.6 514.6 451 L504.6 458.6 C503 459.8 501.6 459.8 500 458.6 L490 451 C488.2 449.6 487 448 487 445 Z" fill="#e4413b"/><path d="M487 418.4 V410.6 C487 405.8 490.2 402.8 494.6 402.8 H510 C514.4 402.8 517.6 405.8 517.6 410.6 V418.4" fill="#fff"/><path d="M487 445 V410.6 C487 405.8 490.2 402.8 494.6 402.8 H510 C514.4 402.8 517.6 405.8 517.6 410.6 V445 C517.6 448 516.4 449.6 514.6 451 L504.6 458.6 C503 459.8 501.6 459.8 500 458.6 L490 451 C488.2 449.6 487 448 487 445Z" fill="none" stroke="#4a4a4a" stroke-width="0.8"/><g transform="translate(502.7 426.3) rotate(25)"><path d="M-4.2 0 H4.2 M0 -4.2 V4.2" stroke="#2a5a8c" stroke-width="0.8"/><circle r="2.7" fill="#3c9fe0"/><circle r="1.4" cx="-0.3" cy="-0.3" fill="#62b4ea"/></g><g transform="translate(495.5 437.6) rotate(25)"><path d="M-4.2 0 H4.2 M0 -4.2 V4.2" stroke="#2a5a8c" stroke-width="0.8"/><circle r="2.7" fill="#3c9fe0"/><circle r="1.4" cx="-0.3" cy="-0.3" fill="#62b4ea"/></g><g transform="translate(509 439.4) rotate(25)"><path d="M-4.2 0 H4.2 M0 -4.2 V4.2" stroke="#2a5a8c" stroke-width="0.8"/><circle r="2.7" fill="#3c9fe0"/><circle r="1.4" cx="-0.3" cy="-0.3" fill="#62b4ea"/></g><g transform="translate(502.7 451.1) rotate(25)"><path d="M-4.2 0 H4.2 M0 -4.2 V4.2" stroke="#2a5a8c" stroke-width="0.8"/><circle r="2.7" fill="#3c9fe0"/><circle r="1.4" cx="-0.3" cy="-0.3" fill="#62b4ea"/></g>
<g><path d="M461.8 565.5 C459.5 550 447.5 534 426.4 524.6 C427.5 538 437.5 555 461.8 565.5Z" fill="#45a6e4" fill-opacity="0.85"/><path d="M461.8 565.5 C455 551 442 540 426.8 534.5 C429 547 441 559.5 461.8 565.5Z" fill="#2f7fb5" fill-opacity="0.55"/><path d="M461.8 565.5 C450 556 439 548 426.6 544.2 C431 553.5 443 562 461.8 565.5Z" fill="#3f8f8f" fill-opacity="0.55"/><path d="M458 565 C448 558.5 438.5 555 427.6 554.4 C433 560.5 444 565 458 565Z" fill="#7fbf58" fill-opacity="0.75"/><path d="M452 563.5 C444 560.6 436 560.6 427.9 563.2 C434 566.6 444 567 452 563.5Z" fill="#a5d23a" fill-opacity="0.85"/></g><g transform="translate(498.6 522.2) skewX(-6) scale(0.3 0.3)" fill="none" stroke="#6cbae4" stroke-width="6.2" stroke-linecap="round" stroke-linejoin="round"><path d="M52 2 L58 11"/><path d="M24 20 L88 18"/><path d="M27 21 C27 50 22 75 4 97"/><path d="M40 36 L76 33 L74 58"/><path d="M30 48 L92 45"/><path d="M40 60 L74 58"/><path d="M58 24 L58 93 L50 88"/><path d="M38 68 L45 76"/><path d="M46 80 L30 93"/><path d="M74 66 L65 76"/><path d="M63 76 C72 86 82 92 94 96"/></g><g transform="translate(527.4 523.6) skewX(-6) scale(0.3 0.3)" fill="none" stroke="#6cbae4" stroke-width="6.2" stroke-linecap="round" stroke-linejoin="round"><path d="M50 2 L56 11"/><path d="M16 24 L12 38"/><path d="M16 24 L88 20 L79 33"/><path d="M50 32 C44 48 36 58 30 66 C48 74 62 82 76 94"/><path d="M70 42 C62 66 46 86 16 98"/><path d="M6 60 L96 56"/></g><g transform="translate(561.4 522.2) skewX(-6) scale(0.3 0.3)" fill="none" stroke="#6cbae4" stroke-width="6.2" stroke-linecap="round" stroke-linejoin="round"><path d="M64 2 C56 16 48 25 38 33"/><path d="M64 3 C72 15 82 23 94 29"/><path d="M52 33 L78 31"/><path d="M44 47 L90 44"/><path d="M65 32 L65 78 L58 73"/><path d="M52 58 L43 70"/><path d="M76 57 L87 68"/><path d="M14 14 L22 24"/><path d="M6 42 L24 40 L15 72"/><path d="M4 80 C14 78 20 84 30 88 C50 94 75 94 99 93"/></g><text x="470.3" y="563" font-family="Liberation Sans, sans-serif" font-size="15.8" fill="#5fb6e4" textLength="144.8" lengthAdjust="spacingAndGlyphs">www.kangantu.com</text>
</svg>
</body></html>
